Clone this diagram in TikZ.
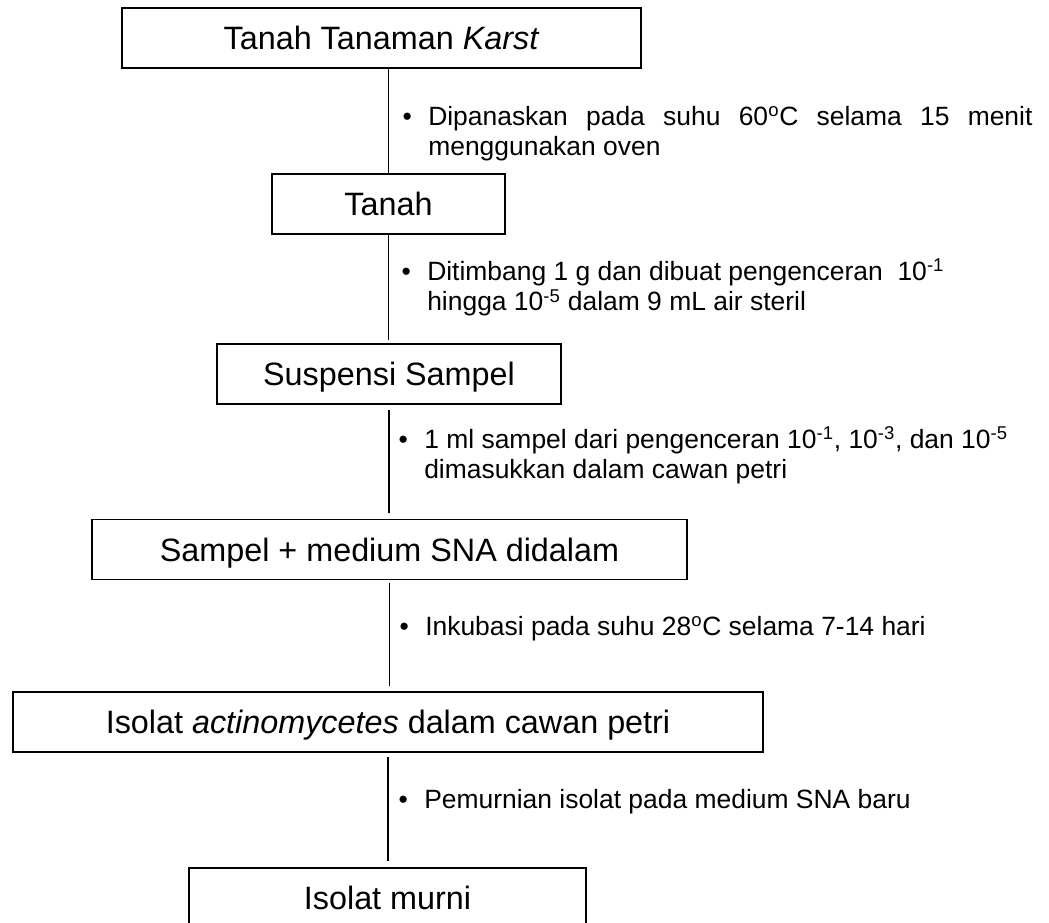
\documentclass[tikz,border=0pt]{standalone}
\usepackage{fontspec}
\setmainfont{Liberation Sans}
\usepackage{tikz}
\usetikzlibrary{positioning}
\hyphenpenalty=10000
\tolerance=10000

\begin{document}
\begin{tikzpicture}[x=0.025cm,y=-0.025cm,
    stepbox/.style={draw, line width=1.2pt, minimum height=1.5cm, inner sep=0pt,
        text height=0.58cm, text depth=0cm, font=\fontsize{23}{27}\selectfont},
    steptext/.style={anchor=base west, inner sep=0pt, align=flush left, text width=15.1cm,
        font=\fontsize{18.8}{22}\selectfont},
    flow/.style={line width=1.1pt}]
\useasboundingbox (0,0) rectangle (1049,922);
% boxes
\node[stepbox, minimum width=12.975cm] (tanaman) at (381.5,38) {Tanah Tanaman \textit{Karst}};
\node[stepbox, minimum width=5.825cm] (tanah) at (388.5,204) {Tanah};
\node[stepbox, minimum width=8.6cm] (suspensi) at (389,374) {Suspensi Sampel};
\node[stepbox, minimum width=14.875cm] (medium) at (389.5,549.5) {Sampel + medium SNA didalam};
\node[stepbox, minimum width=18.75cm] (isolat) at (388,722) {Isolat \textit{actinomycetes} dalam cawan petri};
\node[stepbox, minimum width=9.925cm] (murni) at (387.5,898) {Isolat murni};
% lines
\draw[flow] (tanaman.south -| tanah.north) -- (tanah.north);
\foreach \a/\b/\s/\e in {tanah/suspensi/0cm/0.075cm, suspensi/medium/0.125cm/0.15cm,
    medium/isolat/0.075cm/0.125cm, isolat/murni/0.1cm/0.15cm}
    \draw[flow, shorten <=\s, shorten >=\e] (\a.south) -- (\a.south |- \b.north);
% notes
\node[steptext, align=justify] (panas) at (428,125)
    {\noindent\llap{\textbullet\hspace{0.41cm}}Dipanaskan pada suhu 60\textsuperscript{o}C selama 15 menit menggunakan oven};
\node[steptext] (timbang) at (427,280)
    {\llap{\textbullet\hspace{0.41cm}}Ditimbang 1 g dan dibuat pengenceran\ \ 10\textsuperscript{-1}\\
     hingga 10\textsuperscript{-5} dalam 9 mL air steril};
\node[steptext] (tuang) at (424,448)
    {\llap{\textbullet\hspace{0.41cm}}1 ml sampel dari pengenceran 10\textsuperscript{-1}, 10\textsuperscript{-3}, dan 10\textsuperscript{-5}\\
     dimasukkan dalam cawan petri};
\node[steptext] (inkubasi) at (425,635)
    {\llap{\textbullet\hspace{0.41cm}}Inkubasi pada suhu 28\textsuperscript{o}C selama 7-14 hari};
\node[steptext] (murnikan) at (424,808)
    {\llap{\textbullet\hspace{0.41cm}}Pemurnian isolat pada medium SNA baru};
\end{tikzpicture}
\end{document}
